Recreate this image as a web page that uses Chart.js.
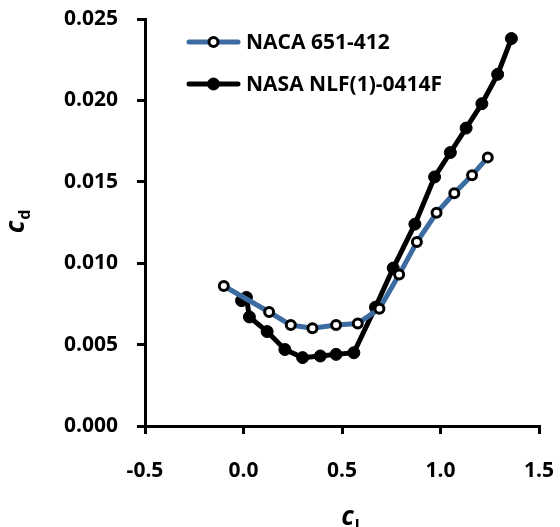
<!DOCTYPE html>
<html>
<head>
<meta charset="utf-8">
<script src="https://cdn.jsdelivr.net/npm/chart.js@4.4.1/dist/chart.umd.min.js"></script>
<style>
  body { margin: 0; background: #fff; }
  #wrap { width: 560px; height: 527px; }
</style>
</head>
<body>
<div id="wrap"><canvas id="myChart"></canvas></div>
<script>
// NACA 65(1)-412
const nacaCl = [-0.10, 0.13, 0.24, 0.35, 0.47, 0.58, 0.69, 0.79, 0.88, 0.98, 1.07, 1.16, 1.24];
const nacaCd = [0.0086, 0.0070, 0.0062, 0.0060, 0.0062, 0.0063, 0.0072, 0.0093, 0.0113, 0.0131, 0.0143, 0.0154, 0.0165];
// NASA NLF(1)-0414F
const nlfCl = [-0.01, 0.015, 0.03, 0.12, 0.21, 0.30, 0.39, 0.47, 0.56, 0.67, 0.76, 0.87, 0.97, 1.05, 1.13, 1.21, 1.29, 1.36];
const nlfCd = [0.0077, 0.0079, 0.0067, 0.0058, 0.0047, 0.0042, 0.0043, 0.0044, 0.0045, 0.0073, 0.0097, 0.0124, 0.0153, 0.0168, 0.0183, 0.0198, 0.0216, 0.0238];

const xTicks = [-0.5, 0.0, 0.5, 1.0, 1.5];
const yTicks = [0.000, 0.005, 0.010, 0.015, 0.020, 0.025];
const seriesNames = ['NACA 651-412', 'NASA NLF(1)-0414F'];

const FONT = '"Open Sans", Lato, sans-serif';
const blue = '#3b6ba0';

const toPts = (xs, ys) => xs.map((x, i) => ({ x: x, y: ys[i] }));

// draws a "c" with a subscript, centred on (0,0)
function drawSub(ctx, main, sub, size) {
    ctx.font = 'italic bold ' + size + 'px ' + FONT;
    const w1 = ctx.measureText(main).width;
    ctx.font = 'bold ' + Math.round(size * 0.62) + 'px ' + FONT;
    const w2 = ctx.measureText(sub).width;
    const x0 = -(w1 + w2) / 2;
    ctx.textBaseline = 'alphabetic';
    ctx.textAlign = 'left';
    ctx.font = 'italic bold ' + size + 'px ' + FONT;
    ctx.fillText(main, x0, 0);
    ctx.font = 'bold ' + Math.round(size * 0.62) + 'px ' + FONT;
    ctx.fillText(sub, x0 + w1 + 1, size * 0.22);
}

const extras = {
    id: 'extras',
    afterDraw(chart) {
        const ctx = chart.ctx;
        ctx.save();
        ctx.fillStyle = '#000';
        // axis titles
        ctx.save();
        ctx.translate(350, 525);
        drawSub(ctx, 'c', 'l', 26);
        ctx.restore();
        ctx.save();
        ctx.translate(24, 222);
        ctx.rotate(-Math.PI / 2);
        drawSub(ctx, 'c', 'd', 26);
        ctx.restore();

        // legend
        const rows = [
            { y: 42, color: blue, fill: '#fff', r: 4.5, bw: 3 },
            { y: 84, color: '#000', fill: '#000', r: 6, bw: 1 }
        ];
        rows.forEach((row, i) => {
            ctx.strokeStyle = row.color;
            ctx.lineWidth = 5;
            ctx.lineCap = 'round';
            ctx.beginPath();
            ctx.moveTo(189, row.y);
            ctx.lineTo(238, row.y);
            ctx.stroke();
            ctx.beginPath();
            ctx.arc(213.5, row.y, row.r, 0, Math.PI * 2);
            ctx.fillStyle = row.fill;
            ctx.fill();
            ctx.lineWidth = row.bw;
            ctx.strokeStyle = '#000';
            ctx.stroke();
            ctx.fillStyle = '#000';
            ctx.font = 'bold 21px ' + FONT;
            ctx.textAlign = 'left';
            ctx.textBaseline = 'middle';
            ctx.fillText(seriesNames[i], 246, row.y + 1);
        });
        ctx.restore();
    }
};

new Chart(document.getElementById('myChart'), {
    type: 'scatter',
    data: {
        datasets: [{
            label: seriesNames[0],
            data: toPts(nacaCl, nacaCd),
            showLine: true,
            borderColor: blue,
            borderWidth: 5,
            pointRadius: 4.5,
            pointBorderWidth: 3,
            pointBackgroundColor: '#fff',
            pointBorderColor: '#000',
            order: 1
        }, {
            label: seriesNames[1],
            data: toPts(nlfCl, nlfCd),
            showLine: true,
            borderColor: '#000',
            borderWidth: 5,
            pointRadius: 6,
            pointBorderWidth: 1,
            pointBackgroundColor: '#000',
            pointBorderColor: '#000',
            order: 2
        }]
    },
    options: {
        responsive: true,
        maintainAspectRatio: false,
        animation: false,
        layout: { padding: { left: 0, right: 21, top: 19, bottom: 0 } },
        scales: {
            x: {
                type: 'linear',
                min: -0.5,
                max: 1.5,
                afterBuildTicks: s => { s.ticks = xTicks.map(v => ({ value: v })); },
                afterFit: s => { s.height = 101; s.paddingLeft = 0; s.paddingRight = 0; },
                border: { color: '#000', width: 3 },
                grid: { drawOnChartArea: false, color: '#000', lineWidth: 3, tickLength: 8 },
                ticks: {
                    color: '#000',
                    padding: 24,
                    font: { family: FONT, size: 21, weight: 'bold' },
                    callback: v => v.toFixed(1)
                }
            },
            y: {
                type: 'linear',
                min: 0,
                max: 0.025,
                afterBuildTicks: s => { s.ticks = yTicks.map(v => ({ value: v })); },
                afterFit: s => { s.width = 145; s.paddingTop = 0; s.paddingBottom = 0; },
                border: { color: '#000', width: 3 },
                grid: { drawOnChartArea: false, color: '#000', lineWidth: 3, tickLength: 8 },
                ticks: {
                    color: '#000',
                    padding: 19,
                    font: { family: FONT, size: 21, weight: 'bold' },
                    callback: v => v.toFixed(3)
                }
            }
        },
        plugins: {
            legend: { display: false },
            tooltip: { enabled: false }
        }
    },
    plugins: [extras]
});
</script>
</body>
</html>
